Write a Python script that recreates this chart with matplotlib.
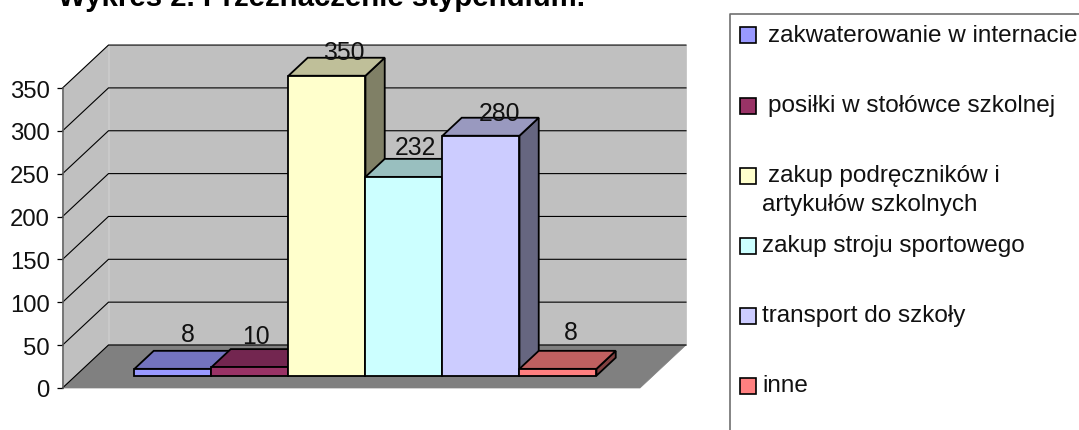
import matplotlib
matplotlib.use("Agg")
import matplotlib.pyplot as plt
from matplotlib.patches import Polygon, Rectangle

plt.rcParams['font.family'] = ['Liberation Sans', 'DejaVu Sans']

categories = ["zakwaterowanie w internacie", "posiłki w stołówce szkolnej",
              "zakup podręczników i\nartykułów szkolnych", "zakup stroju sportowego",
              "transport do szkoły", "inne"]
values = [8, 10, 350, 232, 280, 8]
colors = ["#9999FF", "#993366", "#FFFFCC", "#CCFFFF", "#CCCCFF", "#FF8080"]
top_colors = ["#7373BF", "#732650", "#BFBF99", "#99BFBF", "#9999BF", "#BF6060"]
side_colors = ["#4D4D80", "#4D1A33", "#808066", "#668080", "#666680", "#804040"]
yticks = [0, 50, 100, 150, 200, 250, 300, 350]
title = "Wykres 2. Przeznaczenie stypendium."

W, H = 1079, 431
PX_X, PX_Y = 77.0, 0.857       # pixels per category / per value unit
X0, Y0 = 121.3, 389.0          # pixel of data origin
DX, DY = 46 / PX_X, 43 / PX_Y  # oblique offset of full floor depth
D0, D1 = 0.286, 0.705          # bar depth range
XL, XR = (62.5 - X0) / PX_X, (640 - X0) / PX_X
YMAX = 350


def proj(x, v, d):
    return (x + d * DX, v + d * DY)


fig = plt.figure(figsize=(W / 100, H / 100), dpi=100)
ax = fig.add_axes([0, 0, 1, 1])
ax.set_xlim(-X0 / PX_X, (W - X0) / PX_X)
ax.set_ylim(-(H - Y0) / PX_Y, Y0 / PX_Y)
ax.patch.set_alpha(0)
for s in ('top', 'right', 'bottom'):
    ax.spines[s].set_visible(False)
ax.spines['left'].set_position(('data', XL))
ax.spines['left'].set_bounds(0, YMAX)
ax.spines['left'].set_linewidth(1.1)
ax.spines['left'].set_color('#606060')
ax.spines['left'].set_zorder(5)
ax.set_xticks([])
ax.set_yticks(yticks)
ax.tick_params(axis='y', direction='out', length=4.3, width=0.9, pad=5, labelsize=17.2,
               labelcolor='#111111')

# walls and floor
wall, floor = '#C0C0C0', '#808080'
ax.add_patch(Polygon([proj(XL, 0, 0), proj(XL, 0, 1), proj(XL, YMAX, 1), proj(XL, YMAX, 0)],
                     fc=wall, ec=wall, lw=0.5, zorder=1))
ax.add_patch(Polygon([proj(XL, 0, 1), proj(XR, 0, 1), proj(XR, YMAX, 1), proj(XL, YMAX, 1)],
                     fc=wall, ec=wall, lw=0.5, zorder=1))
ax.add_patch(Polygon([proj(XL, 0, 0), proj(XR, 0, 0), proj(XR, 0, 1), proj(XL, 0, 1)],
                     fc=floor, ec=floor, lw=0.5, zorder=1.1))
for v in yticks:
    a, b, c = proj(XL, v, 0), proj(XL, v, 1), proj(XR, v, 1)
    ax.plot([a[0], b[0], c[0]], [a[1], b[1], c[1]], color='black', lw=0.8, zorder=2,
            solid_joinstyle='miter')

# bars, painted left to right
for i, (v, c, ct, cs) in enumerate(zip(values, colors, top_colors, side_colors)):
    l, r = i, i + 1
    z = 3 + i * 0.1
    kw = dict(ec='black', lw=1.3, joinstyle='miter', zorder=z)
    ax.add_patch(Polygon([proj(r, 0, D0), proj(r, 0, D1), proj(r, v, D1), proj(r, v, D0)], fc=cs, **kw))
    ax.add_patch(Polygon([proj(l, v, D0), proj(r, v, D0), proj(r, v, D1), proj(l, v, D1)], fc=ct, **kw))
    ax.add_patch(Polygon([proj(l, 0, D0), proj(r, 0, D0), proj(r, v, D0), proj(l, v, D0)], fc=c, **kw))

# value labels
label_dx = [0.19, 0.08, 0.22, 0.145, 0.235, 0.165]
label_dy = [20, 15, 7, 14, 6, 22]
for i, v in enumerate(values):
    x, y = proj(i + 0.5 + label_dx[i], v, D1)
    x -= (D1 - D0) * DX
    ax.text(x, y + label_dy[i], str(v), ha='center', va='center', fontsize=17.8, color='#111111', zorder=6)


def fx(p): return p / W
def fy(p): return 1 - p / H


fig.text(fx(58), fy(6), title, ha='left', va='baseline', fontsize=21.2,
         fontweight='bold', color='black')

# legend, laid out in figure pixels
fig.add_artist(plt.Line2D([fx(729.5), fx(729.5), fx(W)], [fy(H), fy(14.5), fy(14.5)],
                          color='#707070', lw=1.2))
centres = [36, 107, 177, 247, 317, 387]
baselines = [42, 112, 182, 252, 322, 392]
text_x = [768, 768, 768, 762, 762, 762]
for cat, c, cy, by, tx in zip(categories, colors, centres, baselines, text_x):
    fig.add_artist(Rectangle((fx(740), fy(cy + 8)), 16 / W, 16 / H, transform=fig.transFigure,
                             fc=c, ec='black', lw=1.2))
    lines = cat.split("\n")
    fig.text(fx(tx), fy(by), lines[0], ha='left', va='baseline', fontsize=17.5, color='#111111')
    if len(lines) > 1:
        fig.text(fx(762), fy(by + 29.5), lines[1], ha='left', va='baseline', fontsize=17.5, color='#111111')

fig.savefig("out.png", dpi=100)
